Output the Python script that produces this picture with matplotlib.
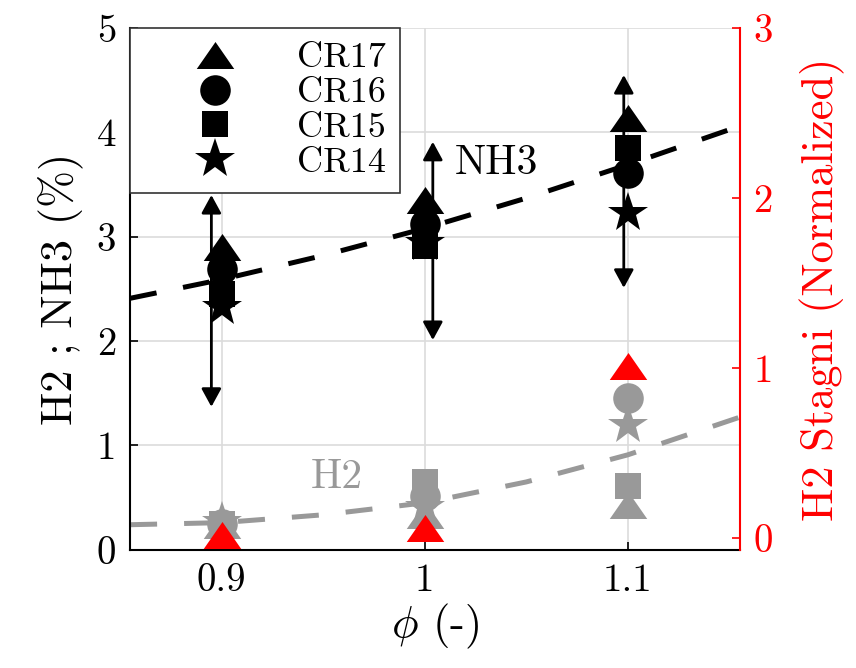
import numpy as np
import matplotlib
matplotlib.use('Agg')
import matplotlib.pyplot as plt
from matplotlib.path import Path

plt.rcParams['font.family'] = 'cmr10'
plt.rcParams['mathtext.fontset'] = 'cm'
plt.rcParams['axes.formatter.use_mathtext'] = True

# equivalence ratio
phi = [0.9, 1.0, 1.1]
phi_ticks = [0.9, 1.0, 1.1]
phi_labels = ['0.9', '1', '1.1']

# NH3 (%) per case
nh3_cr17 = [2.90, 3.35, 4.14]
nh3_cr16 = [2.69, 3.12, 3.61]
nh3_cr15 = [2.45, 2.91, 3.85]
nh3_cr14 = [2.33, 2.94, 3.23]

# H2 (%) per case
h2_cr17 = [0.24, 0.33, 0.43]
h2_cr16 = [0.25, 0.52, 1.45]
h2_cr15 = [0.25, 0.65, 0.61]
h2_cr14 = [0.27, 0.41, 1.20]

# H2 Stagni (normalized), right axis
stagni = [0.015, 0.06, 1.01]

# NH3 spread arrows
arrow_phi = [0.895, 1.004, 1.098]
arrow_low = [1.37, 2.01, 2.51]
arrow_high = [3.40, 3.91, 4.55]

# trend lines
fit_phi = [0.855, 0.9, 0.95, 1.0, 1.05, 1.1, 1.155]
nh3_fit = [2.41, 2.59, 2.82, 3.08, 3.37, 3.69, 4.06]
h2_fit = [0.24, 0.26, 0.335, 0.45, 0.65, 0.91, 1.27]

grey = '#999999'
tri = Path([(0, 0.72), (-1, -0.72), (1, -0.72), (0, 0.72)],
           [Path.MOVETO, Path.LINETO, Path.LINETO, Path.CLOSEPOLY])

cases = [('CR14', '*', 30, nh3_cr14, h2_cr14),
         ('CR15', 's', 19, nh3_cr15, h2_cr15),
         ('CR16', 'o', 22, nh3_cr16, h2_cr16),
         ('CR17', tri, 27, nh3_cr17, h2_cr17)]

fig = plt.figure(figsize=(8.56, 6.68), dpi=100)
ax = fig.add_axes([0.152, 0.177, 0.712, 0.781])
ax2 = ax.twinx()

ax.plot(fit_phi, nh3_fit, color='k', lw=3.6, dashes=(5.4, 5.4), zorder=2)
ax.plot(fit_phi, h2_fit, color=grey, lw=3.6, dashes=(5.4, 5.4), zorder=2)

for x, lo, hi in zip(arrow_phi, arrow_low, arrow_high):
    ax.annotate('', xy=(x, hi), xytext=(x, lo),
                arrowprops=dict(arrowstyle='<|-|>,head_length=0.55,head_width=0.3',
                                lw=2, color='k', shrinkA=0, shrinkB=0,
                                mutation_scale=20), zorder=2)

handles = []
for name, m, ms, nh3, h2 in cases:
    h, = ax.plot(phi, nh3, ls='none', marker=m, ms=ms, color='k', mew=0, label=name, zorder=3)
    ax.plot(phi, h2, ls='none', marker=m, ms=ms, color=grey, mew=0, zorder=3)
    handles.append(h)

ax2.plot(phi, stagni, ls='none', marker=tri, ms=27, color='red', mew=0)

ax.text(1.015, 3.7, 'NH3', fontsize=30, va='center', ha='left')
ax.text(0.944, 0.69, 'H2', fontsize=30, va='center', ha='left', color=grey)

ax.set_xlim(0.855, 1.155)
ax.set_ylim(0, 5)
ax2.set_ylim(-0.07, 3)
ax.set_xticks(phi_ticks)
ax.set_xticklabels(phi_labels)
ax.set_yticks([0, 1, 2, 3, 4, 5])
ax.set_yticklabels(['0', '1', '2', '3', '4', '5'])
ax2.set_yticks([0, 1, 2, 3])
ax2.set_yticklabels(['0', '1', '2', '3'])

ax.grid(True, color='#dcdcdc', lw=1.2)
ax.set_axisbelow(True)
ax.tick_params(direction='in', length=6, width=1.2, labelsize=28, pad=10)
ax2.tick_params(direction='in', length=6, width=1.2, labelsize=28, pad=10,
                colors='red')
for s in ['top', 'right']:
    ax.spines[s].set_visible(False)
for s in ['top', 'left', 'bottom']:
    ax2.spines[s].set_visible(False)
ax2.spines['right'].set_color('red')
ax2.spines['right'].set_linewidth(1.5)
ax.spines['left'].set_linewidth(1.5)
ax.spines['bottom'].set_linewidth(1.5)

ax.set_xlabel(r'$\phi$ (-)', fontsize=32, labelpad=2)
ax.set_ylabel('H2 ; NH3 (%)', fontsize=32, labelpad=10)
ax2.set_ylabel('H2 Stagni (Normalized)', fontsize=32, color='red', labelpad=19)

leg = ax.legend(handles[::-1], [c[0] for c in cases[::-1]], loc='upper left',
                borderaxespad=0, fontsize=26, handlelength=3.9, handletextpad=0.33,
                borderpad=0.39, labelspacing=0.07, fancybox=False,
                edgecolor='#333333', framealpha=1)
leg.get_frame().set_linewidth(1.2)
leg.set_zorder(5)

fig.savefig('out.png', dpi=100)
